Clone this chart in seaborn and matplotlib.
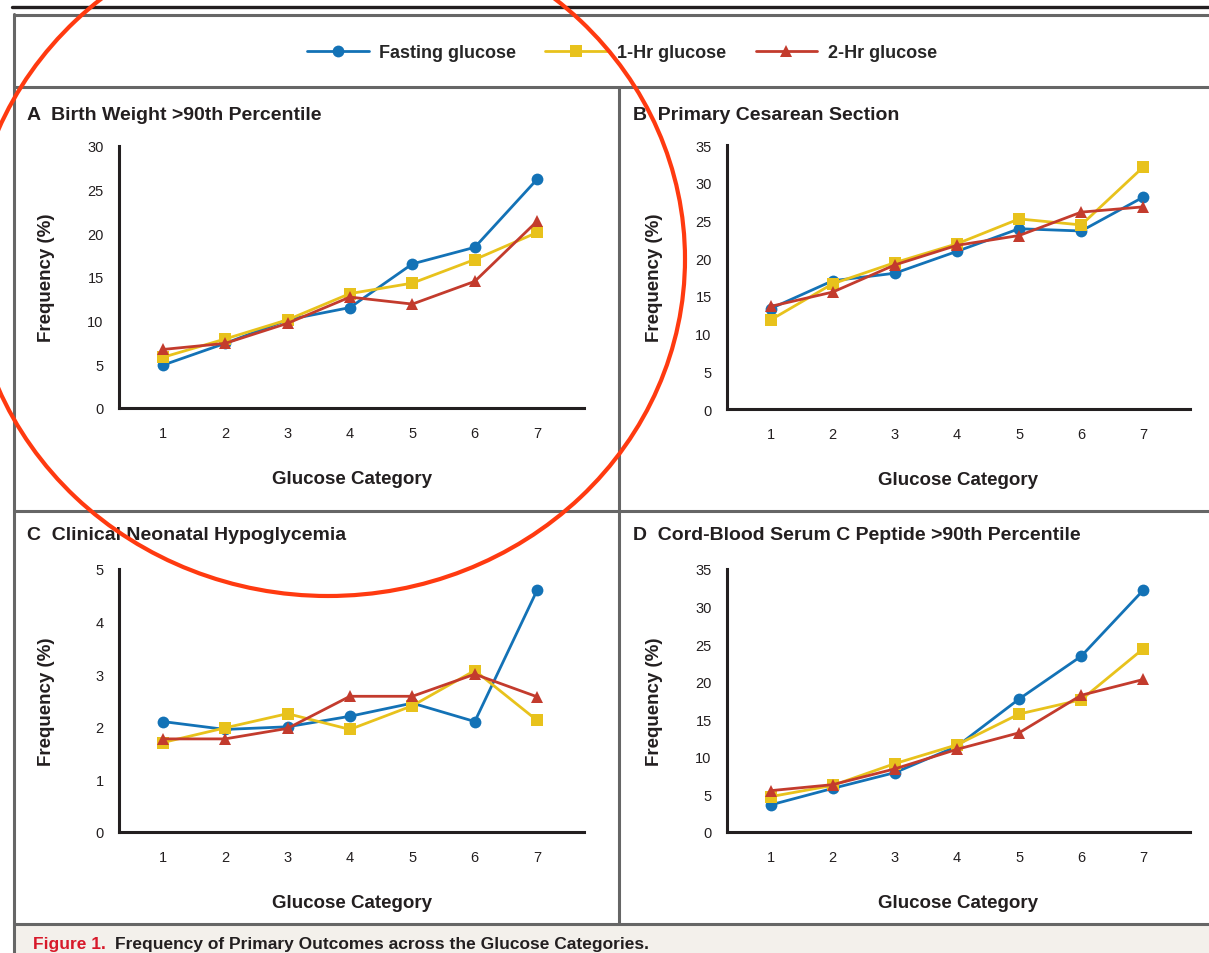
import numpy as np
import pandas as pd
import matplotlib
matplotlib.use("Agg")
import matplotlib.pyplot as plt
import matplotlib.transforms as mtransforms
from matplotlib.lines import Line2D
from matplotlib.patches import Ellipse, Rectangle
import seaborn as sns

# ---------------- data ----------------
categories = [1, 2, 3, 4, 5, 6, 7]
measures = ["Fasting glucose", "1-Hr glucose", "2-Hr glucose"]

birth_fasting = [4.9, 7.4, 10.1, 11.5, 16.5, 18.4, 26.2]
birth_1hr = [5.8, 7.9, 10.1, 13.1, 14.3, 17.0, 20.1]
birth_2hr = [6.7, 7.4, 9.7, 12.7, 11.9, 14.5, 21.4]

cesarean_fasting = [13.3, 17.0, 18.0, 20.9, 23.9, 23.6, 28.1]
cesarean_1hr = [11.8, 16.6, 19.4, 21.9, 25.2, 24.4, 32.1]
cesarean_2hr = [13.6, 15.5, 19.1, 21.7, 23.0, 26.1, 26.8]

hypo_fasting = [2.1, 1.95, 2.0, 2.2, 2.45, 2.1, 4.6]
hypo_1hr = [1.7, 1.98, 2.25, 1.95, 2.4, 3.07, 2.12]
hypo_2hr = [1.77, 1.77, 1.97, 2.58, 2.58, 3.0, 2.57]

cpep_fasting = [3.6, 5.8, 7.9, 11.4, 17.7, 23.4, 32.2]
cpep_1hr = [4.7, 6.2, 9.1, 11.6, 15.7, 17.6, 24.4]
cpep_2hr = [5.5, 6.3, 8.4, 11.0, 13.2, 18.2, 20.3]

panel_titles = ["A  Birth Weight >90th Percentile",
                "B  Primary Cesarean Section",
                "C  Clinical Neonatal Hypoglycemia",
                "D  Cord-Blood Serum C Peptide >90th Percentile"]
panel_ymax = [30, 35, 5, 35]
panel_yticks = [[0, 5, 10, 15, 20, 25, 30],
                [0, 5, 10, 15, 20, 25, 30, 35],
                [0, 1, 2, 3, 4, 5],
                [0, 5, 10, 15, 20, 25, 30, 35]]
x_label = "Glucose Category"
y_label = "Frequency (%)"
caption_head = "Figure 1."
caption_body = "Frequency of Primary Outcomes across the Glucose Categories."

panel_data = [
    (birth_fasting, birth_1hr, birth_2hr),
    (cesarean_fasting, cesarean_1hr, cesarean_2hr),
    (hypo_fasting, hypo_1hr, hypo_2hr),
    (cpep_fasting, cpep_1hr, cpep_2hr),
]

# ---------------- style ----------------
sns.set_theme(style="white")
FONT = ["Liberation Sans", "DejaVu Sans"]
plt.rcParams["font.family"] = FONT

W, H = 1209, 954
fig = plt.figure(figsize=(W / 100, H / 100), dpi=100)
fig.patch.set_facecolor("white")

palette = {"Fasting glucose": "#1372b6", "1-Hr glucose": "#e8c21c", "2-Hr glucose": "#c33b2d"}
markers = {"Fasting glucose": "o", "1-Hr glucose": "s", "2-Hr glucose": "^"}
INK = "#231f20"
FRAME = "#666666"

# pixel transform (origin top-left)
px = mtransforms.Affine2D().scale(1 / W, -1 / H).translate(0, 1) + fig.transFigure


def axes_rect(left, right, top, bottom):
    return [left / W, (H - bottom) / H, (right - left) / W, (bottom - top) / H]


rects = [axes_rect(119, 584, 147, 409),
         axes_rect(727, 1190, 146, 410),
         axes_rect(119, 584, 570, 833),
         axes_rect(727, 1190, 570, 833)]
title_pos = [(27, 116), (633, 116), (27, 536), (633, 536)]

handles = None
for i in range(4):
    ax = fig.add_axes(rects[i])
    f, o, t = panel_data[i]
    df = pd.DataFrame({
        "cat": categories * 3,
        "freq": list(f) + list(o) + list(t),
        "measure": [measures[0]] * 7 + [measures[1]] * 7 + [measures[2]] * 7,
    })
    sns.lineplot(data=df, x="cat", y="freq", hue="measure", style="measure",
                 hue_order=measures, style_order=measures,
                 palette=palette, markers=markers, dashes=False,
                 linewidth=2.0, markersize=8.5, markeredgewidth=0,
                 ax=ax, legend=(i == 0))
    if i == 0:
        handles, labels = ax.get_legend_handles_labels()
        ax.get_legend().remove()
    ax.set_xlim(0.3, 7.75)
    ax.set_ylim(0, panel_ymax[i])
    ax.set_xticks(categories)
    ax.set_yticks(panel_yticks[i])
    ax.set_xticklabels([str(c) for c in categories])
    for s in ["top", "right"]:
        ax.spines[s].set_visible(False)
    for s in ["left", "bottom"]:
        ax.spines[s].set_color(INK)
        ax.spines[s].set_linewidth(2.2)
    ax.tick_params(axis="both", direction="out", length=5, width=2.2, color=INK,
                   labelsize=10.5, labelcolor=INK, pad=6)
    ax.tick_params(axis="x", pad=8)
    ax.set_facecolor("white")
    ax.set_xlabel(x_label, fontsize=13.5, color=INK, fontweight="bold")
    ax.set_ylabel(y_label, fontsize=13.5, color=INK, fontweight="bold")
    ax.xaxis.set_label_coords(0.5, -0.235)
    ax.yaxis.set_label_coords(-0.138, 0.5)
    ax.grid(False)
    tx, ty = title_pos[i]
    fig.text(tx, ty, panel_titles[i], transform=px, fontsize=14, fontweight="bold",
             color=INK, ha="left", va="center")

# legend
fig.legend(handles, labels, loc="center", bbox_to_anchor=(622 / W, 1 - 54 / H),
           ncol=3, frameon=False, handlelength=3.4, columnspacing=1.6,
           handletextpad=0.6, prop={"family": FONT, "weight": "bold", "size": 13})

# frame lines
lw = 2.2
fig.add_artist(Line2D([12, W], [7.5, 7.5], transform=px, color=INK, lw=2.4))
fig.add_artist(Rectangle((16, 927), W - 16, 30, transform=px, facecolor="#f3f0eb",
                         edgecolor="none", zorder=0))
fig.add_artist(Line2D([14, W], [15.5, 15.5], transform=px, color=FRAME, lw=lw))
fig.add_artist(Line2D([14, 14], [15, H], transform=px, color=FRAME, lw=lw))
fig.add_artist(Line2D([14, W], [88, 88], transform=px, color=FRAME, lw=lw))
fig.add_artist(Line2D([14, W], [512, 512], transform=px, color=FRAME, lw=lw))
fig.add_artist(Line2D([14, W], [925, 925], transform=px, color=FRAME, lw=lw))
fig.add_artist(Line2D([619, 619], [88, 925], transform=px, color=FRAME, lw=lw))

# caption
t1 = fig.text(33, 949, caption_head + " ", transform=px, fontsize=12.5, fontweight="bold",
              color="#d7192a", ha="left", va="baseline")
fig.canvas.draw()
bb = t1.get_window_extent()
fig.text(33 + bb.width + 4, 949, caption_body, transform=px, fontsize=12.5,
         fontweight="bold", color=INK, ha="left", va="baseline")

# red highlight ellipse
fig.add_artist(Ellipse((328, 260), 714, 674, transform=px, fill=False,
                       edgecolor="#ff3a10", lw=3.0, zorder=10))

fig.savefig("out.png", dpi=100, facecolor="white")
